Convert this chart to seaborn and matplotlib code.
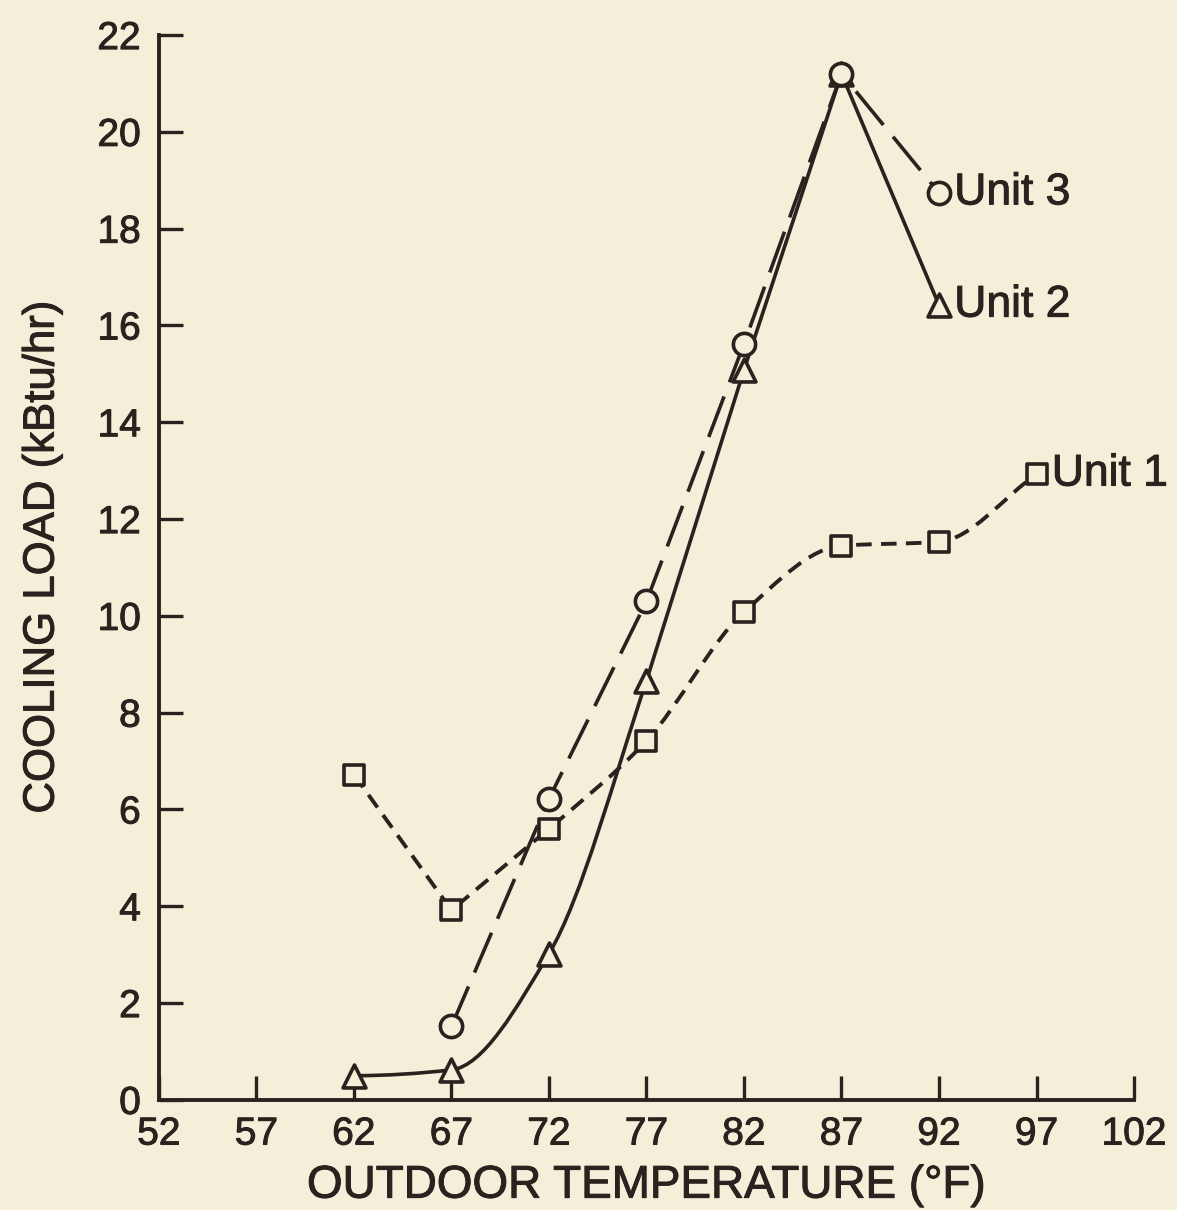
import numpy as np
import pandas as pd
import matplotlib
matplotlib.use("Agg")
import matplotlib.pyplot as plt
import matplotlib.patheffects as pe
from matplotlib.path import Path
from matplotlib.patches import PathPatch
import seaborn as sns

# ---- data ----
temps1 = [62, 67, 72, 77, 82, 87, 92, 97]
unit1 = [6.72, 3.92, 5.60, 7.42, 10.08, 11.45, 11.53, 12.93]
temps2 = [62, 67, 72, 77, 82, 87, 92]
unit2 = [0.50, 0.62, 3.02, 8.66, 15.08, 21.2, 16.42]
temps3 = [67, 72, 77, 82, 87, 92]
unit3 = [1.52, 6.22, 10.30, 15.62, 21.2, 18.74]
series_names = ["Unit 1", "Unit 2", "Unit 3"]
xticks = [52, 57, 62, 67, 72, 77, 82, 87, 92, 97, 102]
yticks = [0, 2, 4, 6, 8, 10, 12, 14, 16, 18, 20, 22]

BG = "#f5eed9"
INK = "#2b211e"

sns.set_theme(style="ticks")
plt.rcParams["font.family"] = ["Liberation Sans", "DejaVu Sans"]
STROKE = [pe.withStroke(linewidth=0.7, foreground=INK)]

fig = plt.figure(figsize=(11.77, 12.10), dpi=100, facecolor=BG)
ax = fig.add_axes([0.135, 0.091, 0.8285, 0.880])
ax.set_facecolor(BG)


def pchip_slopes(x, y):
    x = np.asarray(x, float)
    y = np.asarray(y, float)
    h = np.diff(x)
    d = np.diff(y) / h
    n = len(x)
    m = np.zeros(n)
    for k in range(1, n - 1):
        if d[k - 1] * d[k] <= 0:
            m[k] = 0.0
        else:
            w1 = 2 * h[k] + h[k - 1]
            w2 = h[k] + 2 * h[k - 1]
            m[k] = (w1 + w2) / (w1 / d[k - 1] + w2 / d[k])
    m[0] = 0.0
    m[-1] = d[-1] if n > 1 else 0.0
    return m


def curve_path(xs, ys, smooth_flags):
    x = np.asarray(xs, float)
    y = np.asarray(ys, float)
    m = pchip_slopes(x, y)
    verts = [(x[0], y[0])]
    codes = [Path.MOVETO]
    for i in range(len(x) - 1):
        if smooth_flags[i]:
            h = x[i + 1] - x[i]
            verts += [(x[i] + h / 3, y[i] + m[i] * h / 3),
                      (x[i + 1] - h / 3, y[i + 1] - m[i + 1] * h / 3),
                      (x[i + 1], y[i + 1])]
            codes += [Path.CURVE4] * 3
        else:
            verts.append((x[i + 1], y[i + 1]))
            codes.append(Path.LINETO)
    return Path(verts, codes)


# Unit 1: short dashes
p1 = curve_path(temps1, unit1, [False, False, True, True, True, True, True])
ax.add_patch(PathPatch(p1, fill=False, edgecolor=INK, lw=2.8,
                       linestyle=(0, (4.0, 2.4)), zorder=2))
# Unit 2: solid
p2 = curve_path(temps2, unit2, [True, True, True, False, False, False])
ax.add_patch(PathPatch(p2, fill=False, edgecolor=INK, lw=2.6, zorder=2))
# Unit 3: long dashes
p3 = curve_path(temps3, unit3, [False] * 5)
ax.add_patch(PathPatch(p3, fill=False, edgecolor=INK, lw=2.6,
                       linestyle=(0, (12, 4.2)), zorder=2))

df = pd.concat([
    pd.DataFrame({"temp": temps1, "load": unit1, "unit": series_names[0]}),
    pd.DataFrame({"temp": temps2, "load": unit2, "unit": series_names[1]}),
    pd.DataFrame({"temp": temps3, "load": unit3, "unit": series_names[2]}),
], ignore_index=True)

markers = {"Unit 1": "s", "Unit 2": "^", "Unit 3": "o"}
sizes = {"Unit 1": 14.5, "Unit 2": 16.5, "Unit 3": 16}
for name in series_names:
    sub = df[df["unit"] == name]
    sns.scatterplot(data=sub, x="temp", y="load", marker=markers[name],
                    s=sizes[name] ** 2, facecolor=BG, edgecolor=INK,
                    linewidth=2.6, ax=ax, zorder=3, legend=False)

# end labels
for name, xs, ys in [("Unit 3", temps3, unit3), ("Unit 2", temps2, unit2),
                     ("Unit 1", temps1, unit1)]:
    ax.annotate(name, xy=(xs[-1], ys[-1]), xytext=(11, 0),
                textcoords="offset points", ha="left", va="center",
                fontsize=32, color=INK, path_effects=STROKE)

ax.set_xlim(52, 102)
ax.set_ylim(0, 22)
ax.set_xticks(xticks)
ax.set_yticks(yticks)
ax.set_xticklabels([str(t) for t in xticks])
ax.set_yticklabels([str(t) for t in yticks])
for lab in ax.get_xticklabels() + ax.get_yticklabels():
    lab.set_path_effects(STROKE)
for s in ["top", "right"]:
    ax.spines[s].set_visible(False)
for s in ["left", "bottom"]:
    ax.spines[s].set_color(INK)
    ax.spines[s].set_linewidth(2.8)
ax.tick_params(axis="both", direction="in", length=17, width=2.4,
               colors=INK, labelsize=28)
ax.tick_params(axis="x", pad=12)
ax.tick_params(axis="y", pad=13)
ax.set_xlabel("OUTDOOR TEMPERATURE (\u00b0F)", fontsize=33, color=INK,
              labelpad=8, path_effects=STROKE)
ax.set_ylabel("COOLING LOAD (kBtu/hr)", fontsize=31.5, color=INK,
              labelpad=25, path_effects=STROKE)
ax.yaxis.label.set_y(0.51)
ax.grid(False)

fig.savefig("out.png", dpi=100, facecolor=BG)
